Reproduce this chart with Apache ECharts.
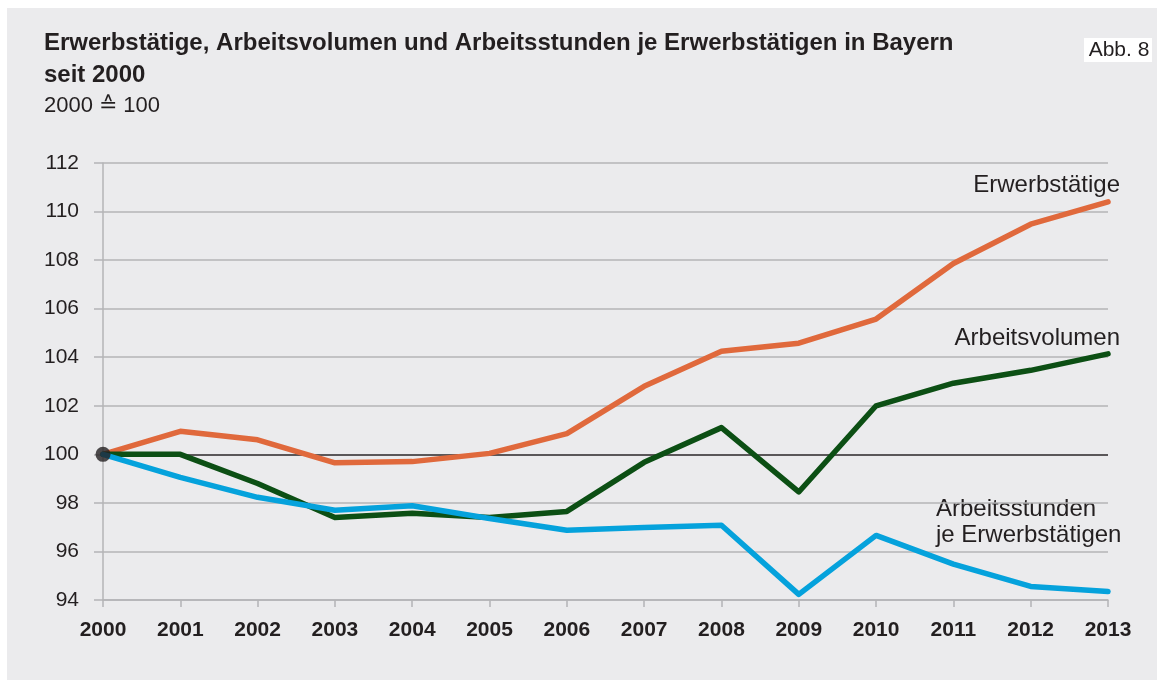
<!DOCTYPE html>
<html>
<head>
<meta charset="utf-8">
<script src="https://cdn.jsdelivr.net/npm/echarts@6/dist/echarts.min.js"></script>
<style>
  html, body { margin: 0; padding: 0; background: #ffffff; }
  #chart {
    position: absolute;
    left: 7px;
    top: 8px;
    width: 1150px;
    height: 672px;
    background: #ebebed;
  }
</style>
</head>
<body>
<div id="chart"></div>
<script>
const years = ['2000', '2001', '2002', '2003', '2004', '2005', '2006', '2007', '2008', '2009', '2010', '2011', '2012', '2013'];
const erwerbstaetige = [100, 100.95, 100.6, 99.65, 99.7, 100.04, 100.85, 102.8, 104.25, 104.58, 105.57, 107.86, 109.48, 110.4];
const arbeitsvolumen = [100, 100, 98.8, 97.4, 97.57, 97.4, 97.65, 99.67, 101.1, 98.45, 102.0, 102.93, 103.46, 104.14];
const arbeitsstunden = [100, 99.05, 98.23, 97.7, 97.88, 97.36, 96.87, 96.99, 97.08, 94.23, 96.66, 95.48, 94.56, 94.35];
const yMin = 94, yMax = 112, yStep = 2;

const textColor = '#231f20';
const gridGray = '#b4b4b6';
const font = '"Liberation Sans", Arial, Helvetica, sans-serif';

// split lines: the 100 line is drawn dark
const splitColors = [];
for (let v = yMin; v <= yMax; v += yStep) splitColors.push(v === 100 ? '#2a2627' : gridGray);

let myChart = echarts.init(document.getElementById('chart'));
let option = {
  backgroundColor: 'transparent',
  animation: false,
  textStyle: { fontFamily: font, color: textColor },
  title: {
    text: 'Erwerbstätige, Arbeitsvolumen und Arbeitsstunden je Erwerbstätigen in Bayern\nseit 2000',
    subtext: '2000 ≙ 100',
    left: 37,
    top: 19,
    padding: 0,
    itemGap: 2,
    textStyle: { fontFamily: font, fontSize: 24, fontWeight: 'bold', color: textColor, lineHeight: 32 },
    subtextStyle: { fontFamily: font, fontSize: 22, color: textColor, lineHeight: 26 }
  },
  grid: { left: 96, right: 49, top: 155, bottom: 80 },
  xAxis: {
    type: 'category',
    data: years,
    boundaryGap: false,
    axisLine: { show: true, lineStyle: { color: gridGray, width: 1.5 } },
    axisTick: { show: true, length: 7, lineStyle: { color: gridGray, width: 1.5 } },
    axisLabel: { margin: 20, fontFamily: font, fontSize: 21, fontWeight: 'bold', color: textColor },
    splitLine: { show: false }
  },
  yAxis: {
    type: 'value',
    min: yMin,
    max: yMax,
    interval: yStep,
    axisLine: { show: true, lineStyle: { color: gridGray, width: 1.5 } },
    axisTick: { show: true, length: 9, lineStyle: { color: gridGray, width: 1.5 } },
    axisLabel: { margin: 24, fontFamily: font, fontSize: 21, color: textColor },
    splitLine: { show: true, lineStyle: { color: splitColors, width: 1.5 } }
  },
  series: [
    {
      name: 'Erwerbstätige',
      type: 'line',
      data: erwerbstaetige,
      symbol: 'none',
      lineStyle: { color: '#e0693c', width: 5.5, join: 'round', cap: 'round' },
      z: 3
    },
    {
      name: 'Arbeitsvolumen',
      type: 'line',
      data: arbeitsvolumen,
      symbol: 'none',
      lineStyle: { color: '#0c4f14', width: 5.5, join: 'round', cap: 'round' },
      z: 4
    },
    {
      name: 'Arbeitsstunden je Erwerbstätigen',
      type: 'line',
      data: arbeitsstunden,
      symbol: 'none',
      lineStyle: { color: '#05a2dc', width: 5.5, join: 'round', cap: 'round' },
      z: 5
    },
    {
      type: 'scatter',
      data: [[years[0], arbeitsvolumen[0]]],
      symbol: 'circle',
      symbolSize: 15,
      itemStyle: { color: textColor },
      z: 10
    }
  ],
  graphic: [
    {
      type: 'rect',
      shape: { x: 1077, y: 30, width: 68, height: 24 },
      style: { fill: '#ffffff' }
    },
    {
      type: 'text',
      x: 1112, y: 42,
      style: { text: 'Abb. 8', font: '21px ' + font, fill: textColor, align: 'center', verticalAlign: 'middle' }
    },
    {
      type: 'text',
      x: 1113, y: 177,
      style: { text: 'Erwerbstätige', font: '24px ' + font, fill: textColor, align: 'right', verticalAlign: 'middle' }
    },
    {
      type: 'text',
      x: 1113, y: 330,
      style: { text: 'Arbeitsvolumen', font: '24px ' + font, fill: textColor, align: 'right', verticalAlign: 'middle' }
    },
    {
      type: 'text',
      x: 929, y: 501,
      style: { text: 'Arbeitsstunden', font: '24px ' + font, fill: textColor, align: 'left', verticalAlign: 'middle' }
    },
    {
      type: 'text',
      x: 929, y: 527,
      style: { text: 'je Erwerbstätigen', font: '24px ' + font, fill: textColor, align: 'left', verticalAlign: 'middle' }
    }
  ]
};

option && myChart.setOption(option);
</script>
</body>
</html>
